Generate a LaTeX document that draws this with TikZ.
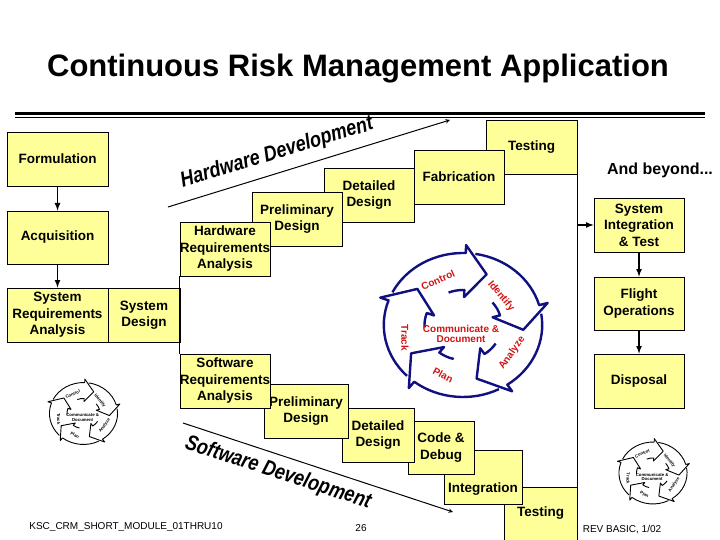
\documentclass[tikz,border=0pt]{standalone}
\usepackage{fontspec}
\setmainfont{Liberation Sans}
\usepackage{xcolor}
\usetikzlibrary{calc, positioning}

\definecolor{phaseyellow}{RGB}{255,255,153}
\definecolor{wheelblue}{RGB}{16,16,128}
\definecolor{wheelred}{RGB}{210,20,20}

\begin{document}
\begin{tikzpicture}[x=1pt, y=1pt]
    \tikzset{
      phase/.style={
        draw, line width=0.8pt, fill=phaseyellow, align=center, inner sep=0pt,
        font=\bfseries\fontsize{13.5}{16.5}\selectfont,
      },
      flow/.style={
        -latex, draw, line width=1.6pt,
      },
      edge/.style={
        draw, line width=0.8pt,
      },
      devline/.style={
        -stealth, draw, line width=1pt,
      },
      devtitle/.style={
        font=\bfseries\itshape\fontsize{18}{20}\selectfont, yscale=1.2,
      },
      footer/.style={
        font=\fontsize{10}{12}\selectfont,
      },
      pics/crmwheel/.style n args={3}{code={
        \begin{scope}[xscale=1.1]
          \foreach \b in {88,16,-56,-128,160}
            \draw[draw=#1, line width=#3, line join=round]
              (\b+65:72) arc[start angle=\b+65, end angle=\b, radius=72]
              -- (\b:80) -- (\b-21:55) -- (\b:28) -- (\b:35)
              arc[start angle=\b, end angle=\b+24, radius=35];
        \end{scope}
        \begin{scope}[text=#2, font=\bfseries\fontsize{10}{10.5}\selectfont]
          \node[rotate=24] (-control) at (-25,45) {Control};
          \node[rotate=-50] (-identify) at (38,29) {Identify};
          \node[rotate=55] (-analyze) at (49,-28) {Analyze};
          \node[rotate=-28] (-plan) at (-20,-50) {Plan};
          \node[rotate=-90] (-track) at (-58,-13) {Track};
          \node[align=center] (-communicate) at (-2,-9) {Communicate \&\\Document};
        \end{scope}
      }},
    }

    \useasboundingbox (0,0) rectangle (720,-540);
    \fill[white] (0,0) rectangle (720,-540);

    % title
    \node[font=\bfseries\fontsize{31}{36}\selectfont] (title) at (358,-69)
      {Continuous Risk Management Application};
    \draw[line width=3pt] (15,-113.5) -- (705,-113.5);
    \draw[line width=1pt] (15,-117.5) -- (705,-117.5);

    % system level
    \node[phase, minimum width=101, minimum height=54] (formulation) at (57.5,-159) {Formulation};
    \node[phase, minimum width=101, minimum height=53] (acquisition) at (57.5,-237.5) {Acquisition};
    \node[phase, minimum width=101, minimum height=54] (sysreq) at (57.5,-315) {System\\Requirements\\Analysis};
    \node[phase, minimum width=72, minimum height=54] (sysdesign) at (144,-315) {System\\Design};
    \draw[flow] (formulation) -- (acquisition);
    \draw[flow] (acquisition) -- (sysreq);

    % hardware steps
    \node[phase, minimum width=91, minimum height=54] (hwtest) at (531.5,-147) {Testing};
    \node[phase, minimum width=90, minimum height=54] (fabrication) at (459,-177) {Fabrication};
    \node[phase, minimum width=90, minimum height=54] (hwdetail) at (369,-195) {Detailed\\Design};
    \node[phase, minimum width=90, minimum height=54] (hwprelim) at (297,-219) {Preliminary\\Design};
    \node[phase, minimum width=90, minimum height=54] (hwreq) at (225,-249) {Hardware\\Requirements\\Analysis};

    % software steps
    \node[phase, minimum width=73, minimum height=53] (swtest) at (540.5,-513.5) {Testing};
    \node[phase, minimum width=78, minimum height=54, text height=34pt, text depth=4pt] (integration) at (483,-477) {Integration};
    \node[phase, minimum width=66, minimum height=53] (codedebug) at (441,-447.5) {Code \&\\Debug};
    \node[phase, minimum width=72, minimum height=54] (swdetail) at (378,-435) {Detailed\\Design};
    \node[phase, minimum width=84, minimum height=54] (swprelim) at (306,-411) {Preliminary\\Design};
    \node[phase, minimum width=90, minimum height=54] (swreq) at (225,-381) {Software\\Requirements\\Analysis};

    \draw[edge] (hwreq.south west) -- (swreq.north west);
    \draw[edge] (hwtest.south east) -- (swtest.north east);

    % and beyond
    \node[font=\bfseries\fontsize{16}{18}\selectfont] (beyond) at (660,-170) {And beyond...};
    \node[phase, minimum width=90, minimum height=54] (sysint) at (639,-225) {System\\Integration\\\& Test};
    \node[phase, minimum width=90, minimum height=53] (flightops) at (639,-303.5) {Flight\\Operations};
    \node[phase, minimum width=90, minimum height=54] (disposal) at (639,-381) {Disposal};
    \coordinate (split) at (hwtest.south east |- sysint.west);
    \draw[flow] (split) -- (sysint);
    \draw[flow] (sysint) -- (flightops);
    \draw[flow] (flightops) -- (disposal);

    % development arrows
    \coordinate (hwstart) at (168,-207);
    \coordinate (hwend) at (450,-120);
    \draw[devline] (hwstart) -- (hwend);
    \node[rotate=17, devtitle] (hwtitle) at (277,-153) {Hardware Development};

    \coordinate (swstart) at (183,-423);
    \coordinate (swend) at (453,-512);
    \draw[devline] (swstart) -- (swend);
    \node[rotate=-18, devtitle] (swtitle) at (278,-473) {Software Development};

    % risk wheels
    \pic (bigwheel) at (463,-325) {crmwheel={wheelblue}{wheelred}{2.4pt}};
    \pic[scale=0.43, transform shape] (leftwheel) at (83.5,-413.5) {crmwheel={black}{black}{0.9pt}};
    \pic[scale=0.43, transform shape] (rightwheel) at (653,-473) {crmwheel={black}{black}{0.9pt}};

    % footer
    \node[footer] (module) at (126,-527) {KSC\_CRM\_SHORT\_MODULE\_01THRU10};
    \node[footer] (page) at (361,-528) {26};
    \node[footer] (rev) at (622,-530) {REV BASIC, 1/02};
\end{tikzpicture}
\end{document}
